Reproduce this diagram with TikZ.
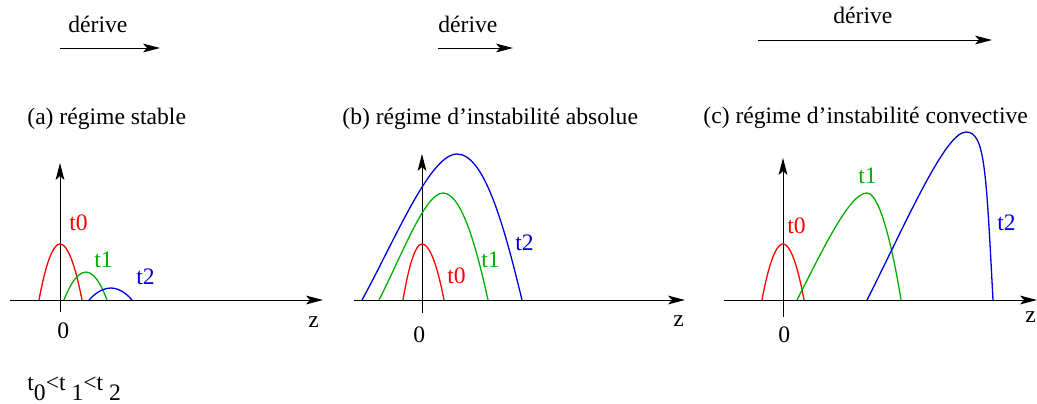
\documentclass[tikz,border=0pt]{standalone}
\usepackage{fontspec}
\setmainfont{Liberation Serif}
\usepackage{xcolor}
\usetikzlibrary{arrows.meta,positioning}
\definecolor{wavered}{HTML}{FF0000}
\definecolor{wavegreen}{HTML}{00B000}
\definecolor{waveblue}{HTML}{0000DD}

\begin{document}
\begin{tikzpicture}[x=0.5pt, y=-0.5pt,
    txt/.style={inner sep=0pt, anchor=base west,
                font=\fontsize{11.8}{14}\selectfont},
    axisline/.style={-{Stealth[length=8.5pt,width=4.4pt,inset=2pt]}, line width=0.5pt},
    drift/.style={-{Stealth[length=8.5pt,width=4.4pt,inset=2pt]}, line width=0.5pt},
    wave/.style={line width=0.65pt}]
  \useasboundingbox (0,0) rectangle (1037,403);

  % (a) stable
  \node[txt] (da) at (68,32) {dérive};
  \coordinate (da1) at (60,48);
  \coordinate (da2) at (160,48);
  \draw[drift] (da1) -- (da2);
  \node[txt] (capa) at (27,124) {(a) régime stable};
  \coordinate (xa1) at (10,300);
  \coordinate (xa2) at (323,300);
  \coordinate (ya1) at (60,312);
  \coordinate (ya2) at (60,163);
  \draw[axisline] (xa1) -- (xa2);
  \draw[axisline] (ya1) -- (ya2);
  \node[txt] (za) at (308,327) {z};
  \node[txt] (oa) at (57,338) {0};
  \draw[wave, wavered] (39,300) parabola bend (60,244) (82,300);
  \draw[wave, wavegreen] (64,300) parabola bend (86,272) (107,300);
  \draw[wave, waveblue] (89,300) parabola bend (111,288) (132,300);
  \node[txt, wavered] (ta0) at (69,230) {t0};
  \node[txt, wavegreen] (ta1) at (94,267) {t1};
  \node[txt, waveblue] (ta2) at (136,284) {t2};
  \node[txt] (order) at (27,390)
    {t\raisebox{-5pt}{0}<t \raisebox{-5pt}{1}<t \raisebox{-5pt}{2}};

  % (b) absolue
  \node[txt] (db) at (438,32) {dérive};
  \coordinate (db1) at (438,48);
  \coordinate (db2) at (513,48);
  \draw[drift] (db1) -- (db2);
  \node[txt] (capb) at (342,124) {(b) régime d’instabilité absolue};
  \coordinate (xb1) at (354,300);
  \coordinate (xb2) at (685,300);
  \coordinate (yb1) at (422,313);
  \coordinate (yb2) at (422,154);
  \draw[axisline] (xb1) -- (xb2);
  \draw[axisline] (yb1) -- (yb2);
  \node[txt] (zb) at (673,326) {z};
  \node[txt] (ob) at (413,342) {0};
  \draw[wave, wavered] (403,300) parabola bend (422,244) (444,300);
  \draw[wave, wavegreen] (379,300) .. controls (402,255) and (425,193) .. (443,193)
    .. controls (462,193) and (477,250) .. (488,300);
  \draw[wave, waveblue] (362,300) .. controls (395,240) and (430,154) .. (457,154)
    .. controls (485,154) and (505,230) .. (522,300);
  \node[txt, wavered] (tb0) at (447,283) {t0};
  \node[txt, wavegreen] (tb1) at (481,267) {t1};
  \node[txt, waveblue] (tb2) at (515,250) {t2};

  % (c) convective
  \node[txt] (dc) at (833,23) {dérive};
  \coordinate (dc1) at (758,40);
  \coordinate (dc2) at (992,40);
  \draw[drift] (dc1) -- (dc2);
  \node[txt] (capc) at (703,123) {(c) régime d’instabilité convective};
  \coordinate (xc1) at (724,300);
  \coordinate (xc2) at (1037,300);
  \coordinate (yc1) at (783,317);
  \coordinate (yc2) at (783,158);
  \draw[axisline] (xc1) -- (xc2);
  \draw[axisline] (yc1) -- (yc2);
  \node[txt] (zc) at (1025,322) {z};
  \node[txt] (oc) at (778,342) {0};
  \draw[wave, wavered] (762,300) parabola bend (783,244) (804,300);
  \draw[wave, wavegreen] (797,300) .. controls (825,245) and (850,193) .. (867,193)
    .. controls (880,193) and (893,250) .. (901,300);
  \draw[wave, waveblue] (867,300) .. controls (905,225) and (945,132) .. (966,132)
    .. controls (985,132) and (986,170) .. (993,300);
  \node[txt, wavered] (tc0) at (787,233) {t0};
  \node[txt, wavegreen] (tc1) at (858,183) {t1};
  \node[txt, waveblue] (tc2) at (997,230) {t2};
\end{tikzpicture}
\end{document}
